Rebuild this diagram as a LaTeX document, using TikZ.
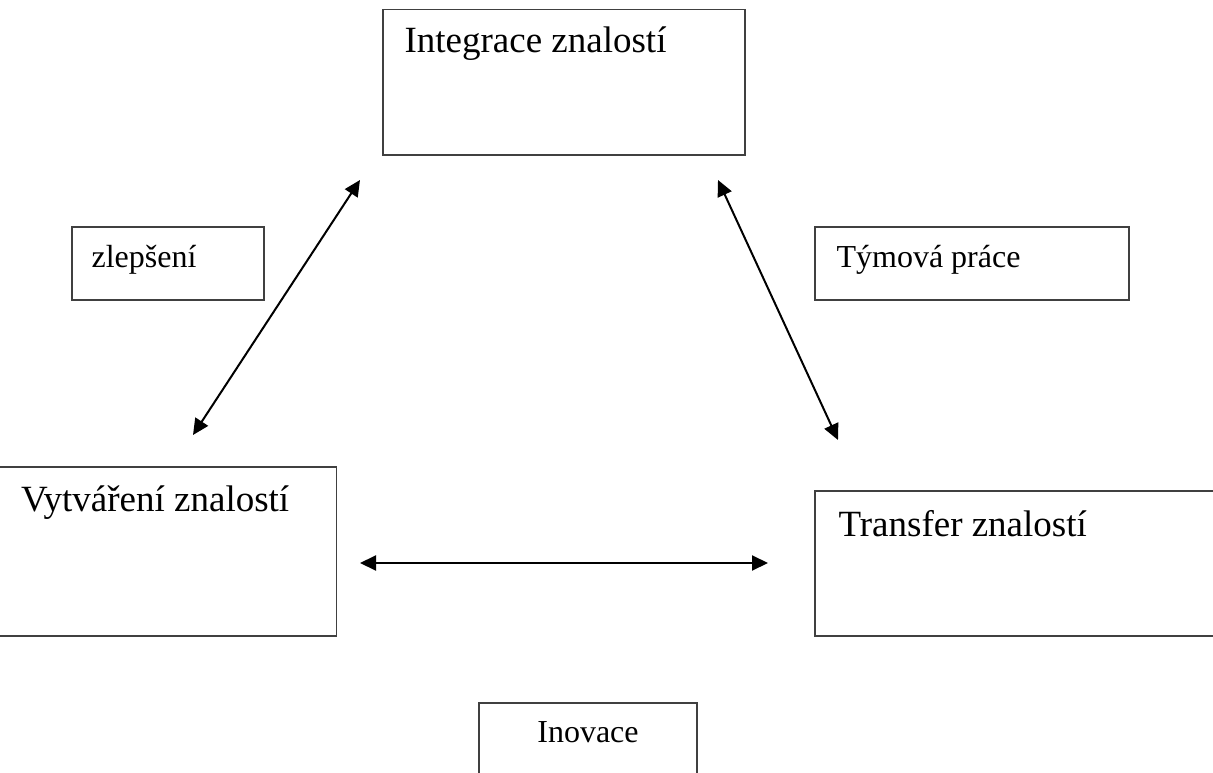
\documentclass[tikz,border=0pt]{standalone}
\usepackage{fontspec}
\setmainfont{Liberation Serif}
\usetikzlibrary{arrows.meta, calc}

\begin{document}
\begin{tikzpicture}[
		x=1pt, y=-1pt, % pixel-like coordinates, y going down
		box/.style={draw=black!75, line width=1.3pt, inner sep=0pt},
		bigtext/.style={font=\fontsize{37}{44}\selectfont, inner sep=0pt, anchor=base west},
		smalltext/.style={font=\fontsize{32}{38}\selectfont, inner sep=0pt, anchor=base west},
		link/.style={{Triangle[length=16pt,width=15pt]}-{Triangle[length=16pt,width=15pt]}, line width=2pt}
		]
		
		\useasboundingbox (0,0) rectangle (1213,773);
		
		% --- 1. The three knowledge boxes ---
		\node[box, minimum width=362pt, minimum height=145.5pt] (integ) at (564,82.25) {};
		\node[box, minimum width=338pt, minimum height=169pt] (vytv) at (167.5,551.5) {};
		\node[box, minimum width=400pt, minimum height=145pt] (trans) at (1015,563.5) {};
		
		\node[bigtext] (integ-txt) at ([shift={(22,43.5)}]integ.north west) {Integrace znalostí};
		\node[bigtext] (vytv-txt) at ([shift={(23,45)}]vytv.north west) {Vytváření znalostí};
		\node[bigtext] (trans-txt) at ([shift={(24,46)}]trans.north west) {Transfer znalostí};
		
		% --- 2. Small label boxes ---
		\node[box, minimum width=192pt, minimum height=73pt] (zlep) at (168,263.5) {};
		\node[box, minimum width=314pt, minimum height=73pt] (tym) at (972,263.5) {};
		\node[box, minimum width=218pt, minimum height=72pt] (inov) at (588,739) {};
		
		\node[smalltext] (zlep-txt) at ([shift={(20,41)}]zlep.north west) {zlepšení};
		\node[smalltext] (tym-txt) at ([shift={(22,41)}]tym.north west) {Týmová práce};
		\node[smalltext, anchor=base] (inov-txt) at ([shift={(0,40)}]inov.north) {Inovace};
		
		% --- 3. Double arrows between the boxes ---
		\coordinate (l-top) at (360,180);
		\coordinate (l-bot) at (193,435);
		\coordinate (r-top) at (718,180);
		\coordinate (r-bot) at (838,440);
		\coordinate (h-left) at (360,563);
		\coordinate (h-right) at (768,563);
		
		\draw[link] (l-bot) -- (l-top);
		\draw[link] (r-top) -- (r-bot);
		\draw[link] (h-left) -- (h-right);
		
	\end{tikzpicture}
\end{document}
